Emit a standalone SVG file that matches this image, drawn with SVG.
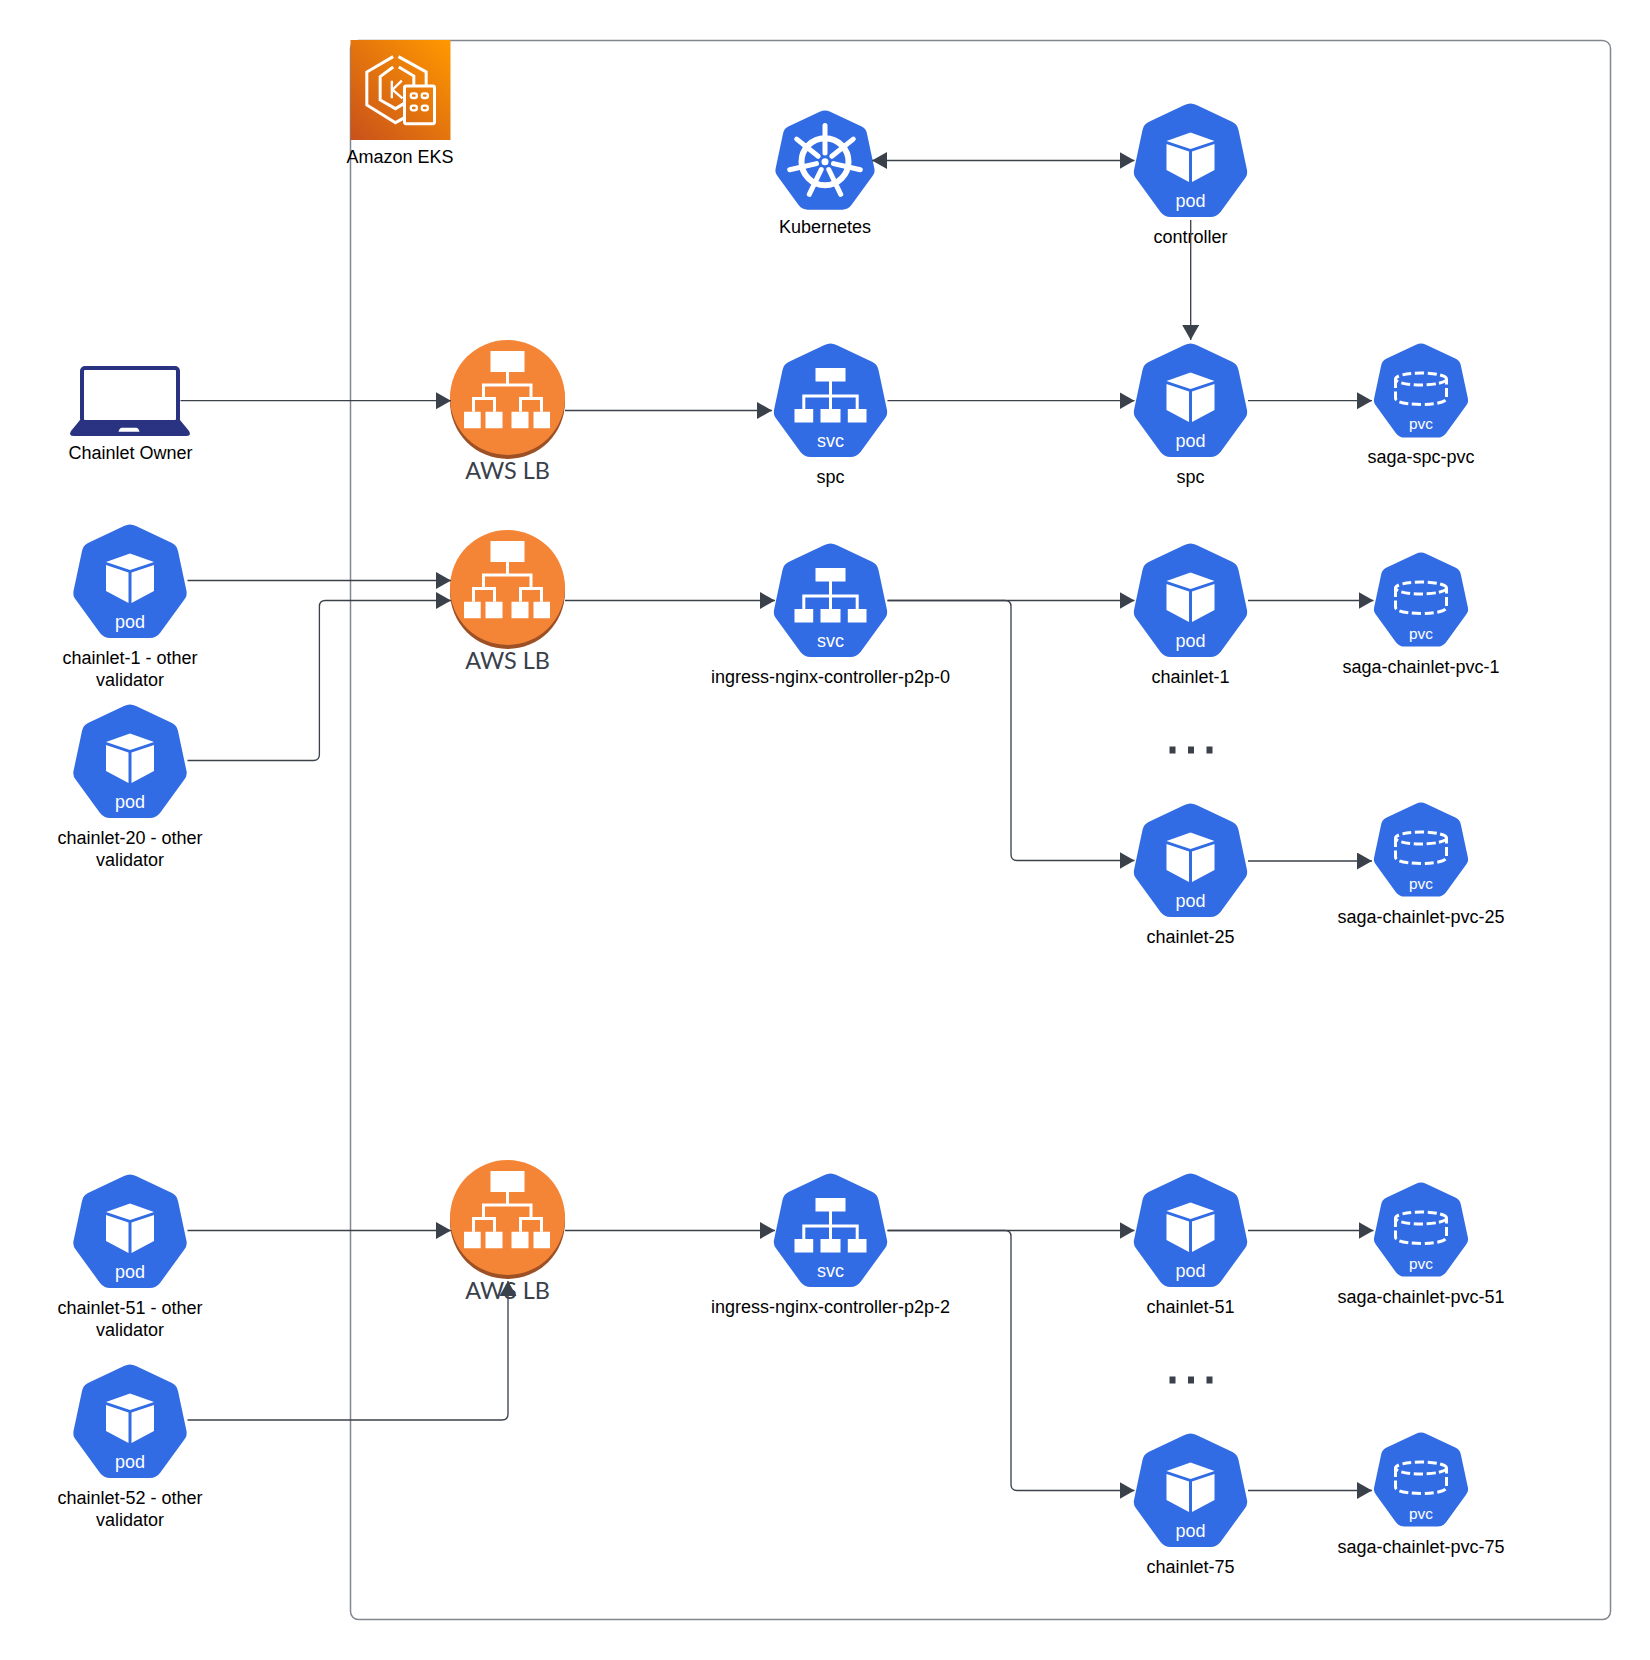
<svg xmlns="http://www.w3.org/2000/svg" xmlns:xlink="http://www.w3.org/1999/xlink" width="1650" height="1660" viewBox="0 0 1650 1660">
<style>
text{font-family:"Liberation Sans",Arial,sans-serif;text-anchor:middle}
.lbl{font-size:18px;fill:#000}
.tag{font-size:18px;fill:#fff}
.ptag{font-size:15.4px;fill:#fff}
.lb{font-size:23.4px;fill:#3a414a;font-family:Lato,"Liberation Sans",sans-serif}
.c{fill:none;stroke:#3a414a;stroke-width:1.33;marker-end:url(#ah)}
.c2{fill:none;stroke:#3a414a;stroke-width:1.33;marker-start:url(#ahs);marker-end:url(#ah)}
.w{fill:#fff}
.wl{fill:none;stroke:#fff;stroke-width:3}
</style>
<defs>
<marker id="ah" markerUnits="userSpaceOnUse" markerWidth="16" markerHeight="18" refX="15" refY="8.500" orient="auto"><path d="M0,0L15,8.500L0,17Z" fill="#3a414a"/></marker>
<marker id="ahs" markerUnits="userSpaceOnUse" markerWidth="16" markerHeight="18" refX="0" refY="8.500" orient="auto"><path d="M0,8.500L15,0L15,17Z" fill="#3a414a"/></marker>
<linearGradient id="eks" x1="0" y1="1" x2="1" y2="0"><stop offset="0" stop-color="#c8511b"/><stop offset="1" stop-color="#ff9900"/></linearGradient>
<path id="hept" fill="#326ce5" d="M-6,2Q0,-1 6,2L42,19Q47,21.5 48,27L56.5,67Q57.5,72 54,76L30,109Q26,114 20,114L-20,114Q-26,114 -30,109L-54,76Q-57.5,72 -56.5,67L-48,27Q-47,21.5 -42,19Z"/>
<g id="pod-s"><use xlink:href="#hept"/><path class="w" d="M0,29.5L24,38L0,46L-24,38ZM-24,41L-1.5,48.5V79L-24,67ZM24,41L1.5,48.5V79L24,67Z"/></g>
<g id="svc-s"><use xlink:href="#hept"/><path class="w" d="M-15,25H15V38.5H-15ZM-36,66H-17.3V79.5H-36ZM-10,66H10V79.5H-10ZM17.3,66H36V79.5H17.3Z"/><path class="wl" d="M0,38V53M-26.7,66V53H26.7V66M0,53V66"/></g>
<g id="pvc-s"><use xlink:href="#hept" transform="scale(.83)"/><g fill="none" stroke="#fff" stroke-width="3" stroke-dasharray="9 3.5"><ellipse cx="0" cy="36" rx="25.5" ry="6"/><path d="M-25.500,36V55Q-25.500,61 0,61.500Q25.500,61 25.500,55V36"/></g></g>
<g id="lb-s"><ellipse cx="0" cy="61.5" rx="57.5" ry="57.5" fill="#9d5025"/><ellipse cx="0" cy="57.5" rx="57.5" ry="57.5" fill="#f58536"/><path class="w" d="M-17,11H17V32H-17ZM-43.5,71.700H-26.800V88.300H-43.500ZM-22,71.700H-5V88.300H-22ZM4,71.700H21V88.300H4ZM26,71.700H42.500V88.300H26Z"/><path class="wl" d="M0,32V45M-24,58V45H23.500V58M-34,71.700V58.500H-13V71.700M13,71.700V58.500H34V71.700"/></g>
</defs>
<rect id="frame" x="350.500" y="40.500" width="1260" height="1579" rx="8" fill="#fff" stroke="#82868e" stroke-width="1.5"/>
<g id="eks-node">
<rect x="350.500" y="40" width="100" height="100" fill="url(#eks)"/>
<g transform="translate(330.500 20) scale(.3333)" fill="none" stroke="#fff" stroke-width="9">
<path d="M188,110L109,156V255L195,308L222,293M204,110L287,156V197"/>
<path d="M188,141L149,170V240L195,266L220,251M205,141L250,168V197"/>
<path d="M184,182V235M214,182L186,209L216,235" stroke-width="7"/>
<rect x="222" y="198" width="90" height="113" rx="5" fill="none"/>
<g fill="none" stroke-width="7"><rect x="241" y="220" width="18" height="14" rx="6"/><rect x="274" y="220" width="18" height="14" rx="6"/><rect x="241" y="257" width="18" height="14" rx="6"/><rect x="274" y="257" width="18" height="14" rx="6"/></g>
</g>
<text class="lbl" x="400" y="163">Amazon EKS</text>
</g>
<g id="k8s">
<use xlink:href="#hept" transform="translate(825 110) scale(.874)"/>
<g fill="none" stroke="#fff" stroke-linecap="round">
<circle cx="825" cy="161.700" r="23.500" stroke-width="6"/>
<g stroke-width="5"><path d="M825,153V125.500"/><path d="M825,153V125.500" transform="rotate(51.43 825 161.700)"/><path d="M825,153V125.500" transform="rotate(102.86 825 161.700)"/><path d="M825,153V125.500" transform="rotate(154.29 825 161.700)"/><path d="M825,153V125.500" transform="rotate(205.71 825 161.700)"/><path d="M825,153V125.500" transform="rotate(257.14 825 161.700)"/><path d="M825,153V125.500" transform="rotate(308.57 825 161.700)"/></g>
</g>
<circle cx="825" cy="161.700" r="3.500" class="w"/>
<text class="lbl" x="825" y="233">Kubernetes</text>
</g>
<g id="pod-controller"><use xlink:href="#pod-s" x="1190.500" y="103"/><text class="tag" x="1190.500" y="207">pod</text><text class="lbl" x="1190.500" y="243">controller</text></g>
<g id="laptop">
<rect x="82" y="368" width="96" height="54" rx="3" fill="#fff" stroke="#2a3282" stroke-width="4"/>
<path d="M80,420L71,431Q68,436 74,436H186Q192,436 189,431L180,420Z" fill="#2a3282"/>
<path d="M118.500,431.700Q119.500,427.700 122,427.700H136Q138.500,427.700 139.500,431.700Z" fill="#fff"/>
<text class="lbl" x="130.500" y="459">Chainlet Owner</text>
</g>
<g id="lb-1"><use xlink:href="#lb-s" x="507.500" y="340"/><text class="lb" x="507.500" y="478.700">AWS LB</text></g>
<g id="lb-2"><use xlink:href="#lb-s" x="507.500" y="530"/><text class="lb" x="507.500" y="668.700">AWS LB</text></g>
<g id="lb-3"><use xlink:href="#lb-s" x="507.500" y="1160"/><text class="lb" x="507.500" y="1298.700">AWS LB</text></g>
<g id="svc-spc"><use xlink:href="#svc-s" x="830.500" y="343"/><text class="tag" x="830.500" y="447">svc</text><text class="lbl" x="830.500" y="483">spc</text></g>
<g id="svc-p2p-0"><use xlink:href="#svc-s" x="830.500" y="543"/><text class="tag" x="830.500" y="647">svc</text><text class="lbl" x="830.500" y="683">ingress-nginx-controller-p2p-0</text></g>
<g id="svc-p2p-2"><use xlink:href="#svc-s" x="830.500" y="1173"/><text class="tag" x="830.500" y="1277">svc</text><text class="lbl" x="830.500" y="1312.500">ingress-nginx-controller-p2p-2</text></g>
<g id="pod-spc"><use xlink:href="#pod-s" x="1190.500" y="343"/><text class="tag" x="1190.500" y="447">pod</text><text class="lbl" x="1190.500" y="483">spc</text></g>
<g id="pod-c1"><use xlink:href="#pod-s" x="1190.500" y="543"/><text class="tag" x="1190.500" y="647">pod</text><text class="lbl" x="1190.500" y="683">chainlet-1</text></g>
<g id="pod-c25"><use xlink:href="#pod-s" x="1190.500" y="803"/><text class="tag" x="1190.500" y="907">pod</text><text class="lbl" x="1190.500" y="943">chainlet-25</text></g>
<g id="pod-c51"><use xlink:href="#pod-s" x="1190.500" y="1173"/><text class="tag" x="1190.500" y="1277">pod</text><text class="lbl" x="1190.500" y="1312.500">chainlet-51</text></g>
<g id="pod-c75"><use xlink:href="#pod-s" x="1190.500" y="1433"/><text class="tag" x="1190.500" y="1537">pod</text><text class="lbl" x="1190.500" y="1572.500">chainlet-75</text></g>
<g id="pvc-spc"><use xlink:href="#pvc-s" x="1421" y="343"/><text class="ptag" x="1421" y="429">pvc</text><text class="lbl" x="1421" y="463">saga-spc-pvc</text></g>
<g id="pvc-1"><use xlink:href="#pvc-s" x="1421" y="552"/><text class="ptag" x="1421" y="638.500">pvc</text><text class="lbl" x="1421" y="673">saga-chainlet-pvc-1</text></g>
<g id="pvc-25"><use xlink:href="#pvc-s" x="1421" y="802"/><text class="ptag" x="1421" y="888.500">pvc</text><text class="lbl" x="1421" y="923">saga-chainlet-pvc-25</text></g>
<g id="pvc-51"><use xlink:href="#pvc-s" x="1421" y="1182"/><text class="ptag" x="1421" y="1268.500">pvc</text><text class="lbl" x="1421" y="1303">saga-chainlet-pvc-51</text></g>
<g id="pvc-75"><use xlink:href="#pvc-s" x="1421" y="1432"/><text class="ptag" x="1421" y="1518.500">pvc</text><text class="lbl" x="1421" y="1552.500">saga-chainlet-pvc-75</text></g>
<g id="ext-1"><use xlink:href="#pod-s" x="130" y="524"/><text class="tag" x="130" y="628">pod</text><text class="lbl" x="130" y="664">chainlet-1 - other</text><text class="lbl" x="130" y="686">validator</text></g>
<g id="ext-20"><use xlink:href="#pod-s" x="130" y="704"/><text class="tag" x="130" y="808">pod</text><text class="lbl" x="130" y="844">chainlet-20 - other</text><text class="lbl" x="130" y="866">validator</text></g>
<g id="ext-51"><use xlink:href="#pod-s" x="130" y="1174"/><text class="tag" x="130" y="1278">pod</text><text class="lbl" x="130" y="1313.500">chainlet-51 - other</text><text class="lbl" x="130" y="1335.500">validator</text></g>
<g id="ext-52"><use xlink:href="#pod-s" x="130" y="1364"/><text class="tag" x="130" y="1468">pod</text><text class="lbl" x="130" y="1503.500">chainlet-52 - other</text><text class="lbl" x="130" y="1525.500">validator</text></g>
<g id="ellipsis-1" fill="#3a414a"><rect x="1169.500" y="746.500" width="6" height="7"/><rect x="1188" y="746.500" width="6" height="7"/><rect x="1206.500" y="746.500" width="6" height="7"/></g>
<g id="ellipsis-2" fill="#3a414a"><rect x="1169.500" y="1376.500" width="6" height="7"/><rect x="1188" y="1376.500" width="6" height="7"/><rect x="1206.500" y="1376.500" width="6" height="7"/></g>
<g id="connectors">
<path class="c2" d="M872,160.500H1134.500"/>
<path class="c" d="M1190.700,220V340"/>
<path class="c" d="M180.500,400.700H451"/>
<path class="c" d="M565,410.500H772"/>
<path class="c" d="M887.500,400.700H1134.500"/>
<path class="c" d="M1248,400.700H1372"/>
<path class="c" d="M187.500,580.500H451"/>
<path class="c" d="M187.500,760.500H313.400Q319.400,760.500 319.400,754.500V606.500Q319.400,600.500 325.400,600.500H451"/>
<path class="c" d="M565,600.500H775"/>
<path class="c" d="M887.500,600.500H1134.500"/>
<path class="c" d="M887.500,600.500H1005Q1011,600.500 1011,606.500V854.500Q1011,860.500 1017,860.500H1134.500"/>
<path class="c" d="M1248,600.500H1373.500"/>
<path class="c" d="M1248,861H1372"/>
<path class="c" d="M187.500,1230.500H451"/>
<path class="c" d="M187.500,1420H502Q508,1420 508,1414V1281"/>
<path class="c" d="M565,1230.500H775"/>
<path class="c" d="M887.500,1230.500H1134.500"/>
<path class="c" d="M887.500,1230.500H1005Q1011,1230.500 1011,1236.500V1484.500Q1011,1490.500 1017,1490.500H1134.500"/>
<path class="c" d="M1248,1230.500H1373.500"/>
<path class="c" d="M1248,1490.500H1372"/>
</g>
</svg>
